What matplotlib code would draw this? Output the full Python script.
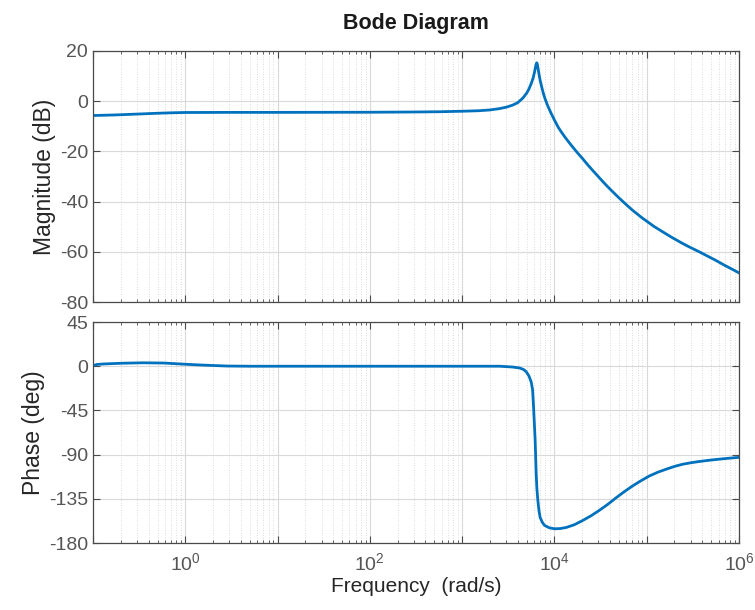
import numpy as np
import matplotlib
matplotlib.use("Agg")
import matplotlib.pyplot as plt
from matplotlib.ticker import LogLocator, FixedLocator, NullFormatter, FuncFormatter

plt.rcParams['font.family'] = ['Liberation Sans', 'DejaVu Sans']
plt.rcParams['mathtext.fontset'] = 'custom'
plt.rcParams['mathtext.rm'] = 'Liberation Sans'
plt.rcParams['axes.unicode_minus'] = False

# ---- data ----
mag_freq = [0.1, 0.13, 0.18, 0.27, 0.4, 0.5, 0.74, 1, 3, 10, 100, 300, 571, 1000, 1500,
            1980, 2500, 3000, 3500, 4000, 4540, 5000, 5300, 5600, 5850, 6080, 6250, 6380,
            6440, 6520, 6650, 6800, 7000, 7300, 7600, 7800, 8000, 8500, 9200, 10000, 11000,
            11800, 13000, 15100, 17900, 20000, 22900, 26000, 30000, 35000, 40000, 50000,
            60000, 70000, 80000, 90000, 100000, 120000, 150000, 190000, 240000, 287000,
            371000, 450000, 560000, 700000, 850000, 1000000]
mag_db = [-5.7, -5.6, -5.45, -5.2, -4.95, -4.8, -4.6, -4.5, -4.45, -4.45, -4.4, -4.3, -4.2, -4.0, -3.8,
          -3.5, -3.0, -2.4, -1.6, -0.6, 1.2, 3.2, 4.9, 7.0, 9.0, 11.5, 13.8, 15.0,
          15.3, 14.8, 13.0, 10.8, 8.3, 5.5, 3.0, 1.7, 0.5, -2.0, -4.8, -7.5, -10.4,
          -12.1, -14.3, -17.4, -20.7, -22.7, -25.3, -27.6, -30.1, -32.8, -35.0, -38.5,
          -41.2, -43.4, -45.1, -46.6, -47.8, -49.9, -52.1, -54.4, -56.5, -58.0,
          -60.0, -61.6, -63.4, -65.4, -67.0, -68.4]

ph_freq = [0.1, 0.11, 0.13, 0.2, 0.35, 0.6, 1, 1.5, 2.8, 5, 10, 100, 1000, 2540, 3500,
           4190, 4600, 4940, 5300, 5600, 5800, 5930, 6050, 6180, 6260, 6340, 6450, 6600,
           6800, 7000, 7400, 7800, 8800, 10000, 11500, 13400, 16500, 20300, 25000, 30700,
           38000, 46500, 57000, 70500, 87000, 107000, 132000, 162000, 200000, 245000,
           300000, 371000, 460000, 560000, 750000, 1000000]
ph_deg = [0.5, 1.8, 2.3, 3.0, 3.5, 3.2, 2.0, 1.2, 0.2, 0.0, 0.0, 0.0, 0.0, 0.0, -0.8,
          -1.8, -3.2, -5.5, -10.0, -16.0, -24.0, -40.0, -57.0, -75.0, -92.0, -109.0, -124.0, -136.0,
          -147.0, -154.0, -159.0, -162.0, -164.5, -165.5, -165.3, -164.2, -161.3, -157.0, -152.2, -146.7,
          -140.5, -134.0, -127.8, -121.8, -116.5, -111.7, -107.9, -104.9, -102.0, -99.8,
          -98.3, -97.0, -95.9, -95.0, -93.8, -92.8]

mag_ticks = [-80, -60, -40, -20, 0, 20]
ph_ticks = [-180, -135, -90, -45, 0, 45]
x_major = [1e-1, 1e0, 1e1, 1e2, 1e3, 1e4, 1e5, 1e6]
x_labels = {1e0: r'$10^{0}$', 1e2: r'$10^{2}$', 1e4: r'$10^{4}$', 1e6: r'$10^{6}$'}

line_color = '#0072BD'
axis_color = '#4a4a4a'
label_color = '#555555'

fig = plt.figure(figsize=(7.55, 6.10), dpi=100)
fig.patch.set_facecolor('white')
ax1 = fig.add_axes([0.1232, 0.5049, 0.9788 - 0.1232, 0.9164 - 0.5049])
ax2 = fig.add_axes([0.1232, 0.1098, 0.9788 - 0.1232, 0.4721 - 0.1098])

for ax in (ax1, ax2):
    ax.set_xscale('log')
    ax.set_xlim(1e-1, 1e6)
    ax.xaxis.set_major_locator(FixedLocator(x_major))
    ax.xaxis.set_minor_locator(LogLocator(base=10, subs=np.arange(2, 10), numticks=100))
    ax.xaxis.set_minor_formatter(NullFormatter())
    ax.grid(True, which='major', color='#d9d9d9', linewidth=0.8, linestyle='-')
    ax.grid(True, which='minor', axis='x', color='#d0d0d0', linewidth=0.6, linestyle=(0, (1, 2)))
    ax.set_axisbelow(True)
    ax.tick_params(which='both', direction='in', top=True, right=True, colors=axis_color,
                   labelcolor=label_color, labelsize=14)
    ax.tick_params(which='major', length=5, width=0.8)
    ax.tick_params(which='minor', length=2.5, width=0.6)
    for s in ax.spines.values():
        s.set_color(axis_color)
        s.set_linewidth(0.9)

ax1.plot(mag_freq, mag_db, color=line_color, linewidth=2.0)
ax1.set_ylim(-80, 20)
ax1.set_yticks(mag_ticks)
ax1.xaxis.set_major_formatter(NullFormatter())
ax1.set_ylabel('Magnitude (dB)', fontsize=16.5, color='#262626', labelpad=3)
ax1.set_title('Bode Diagram', fontsize=15.5, fontweight='bold', color='#1a1a1a', pad=16)

ax2.plot(ph_freq, ph_deg, color=line_color, linewidth=2.0)
ax2.set_ylim(-180, 45)
ax2.set_yticks(ph_ticks)
ax2.xaxis.set_major_formatter(FuncFormatter(lambda v, p: x_labels.get(v, '')))
ax2.tick_params(axis='x', which='major', pad=7)
ax2.set_ylabel('Phase (deg)', fontsize=16.5, color='#262626', labelpad=3)
ax2.set_xlabel('Frequency  (rad/s)', fontsize=15, color='#262626', labelpad=1)

fig.savefig('out.png', dpi=100, facecolor='white')
